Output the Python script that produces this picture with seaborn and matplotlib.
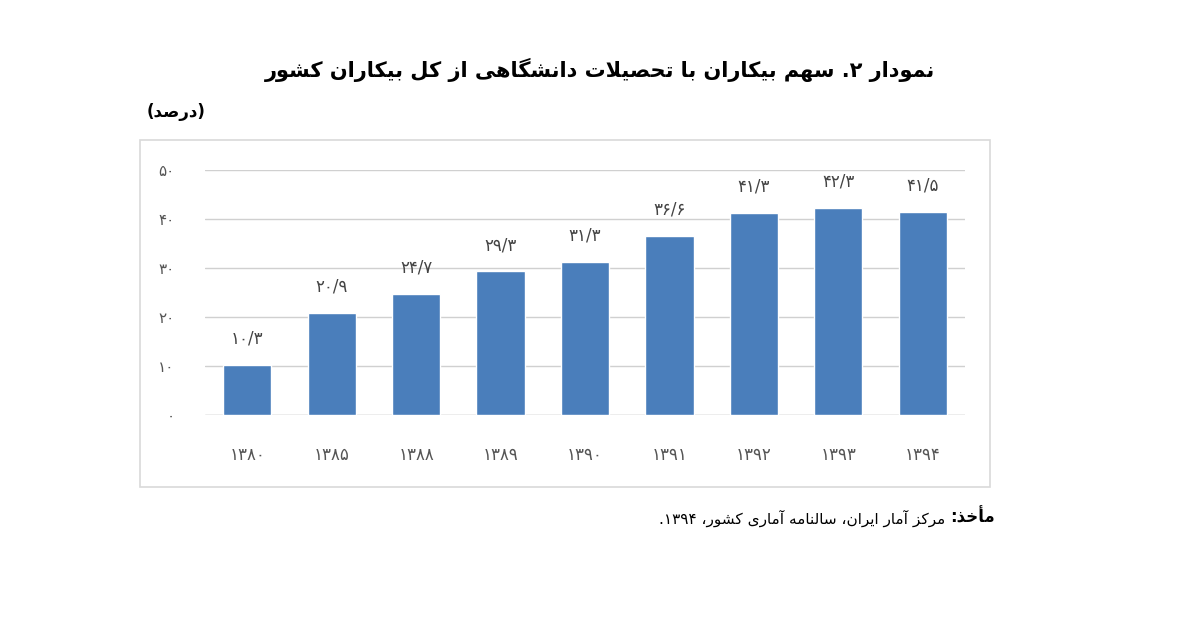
import re
import matplotlib
matplotlib.use("Agg")
import matplotlib.pyplot as plt
import seaborn as sns
import pandas as pd
from matplotlib.patches import Rectangle

# data
years = ["۱۳۸۰", "۱۳۸۵", "۱۳۸۸", "۱۳۸۹", "۱۳۹۰", "۱۳۹۱", "۱۳۹۲", "۱۳۹۳", "۱۳۹۴"]
shares = [10.3, 20.9, 24.7, 29.3, 31.3, 36.6, 41.3, 42.3, 41.5]
yticks = [0, 10, 20, 30, 40, 50]

title = "نمودار ۲. سهم بیکاران با تحصیلات دانشگاهی از کل بیکاران کشور"
unit = "(درصد)"
src_bold = "مأخذ:"
src_rest = "مرکز آمار ایران، سالنامه آماری کشور، ۱۳۹۴."

# --- minimal Arabic/Persian shaping (presentation forms) + RTL ordering ---
DUAL = {
    "ب": 0xFE8F, "ت": 0xFE95, "ث": 0xFE99, "ج": 0xFE9D, "ح": 0xFEA1, "خ": 0xFEA5,
    "س": 0xFEB1, "ش": 0xFEB5, "ص": 0xFEB9, "ض": 0xFEBD, "ط": 0xFEC1, "ظ": 0xFEC5,
    "ع": 0xFEC9, "غ": 0xFECD, "ف": 0xFED1, "ق": 0xFED5, "ك": 0xFED9, "ل": 0xFEDD,
    "م": 0xFEE1, "ن": 0xFEE5, "ه": 0xFEE9, "ي": 0xFEF1,
    "پ": 0xFB56, "چ": 0xFB7A, "ک": 0xFB8E, "گ": 0xFB92, "ی": 0xFBFC,
}
RIGHT = {
    "ا": 0xFE8D, "آ": 0xFE81, "أ": 0xFE83, "د": 0xFEA9, "ذ": 0xFEAB, "ر": 0xFEAD,
    "ز": 0xFEAF, "و": 0xFEED, "ژ": 0xFB8A,
}
LAM_ALEF = {"ا": 0xFEFB, "آ": 0xFEF5, "أ": 0xFEF7}


def shape(s):
    out = []
    i = 0
    n = len(s)
    while i < n:
        c = s[i]
        prev = s[i - 1] if i > 0 else ""
        joins_prev = prev in DUAL
        nxt = s[i + 1] if i + 1 < n else ""
        if c == "ل" and nxt in LAM_ALEF:
            out.append(chr(LAM_ALEF[nxt] + (1 if joins_prev else 0)))
            i += 2
            continue
        if c in DUAL:
            joins_next = nxt in DUAL or nxt in RIGHT
            base = DUAL[c]
            if joins_prev and joins_next:
                out.append(chr(base + 3))
            elif joins_prev:
                out.append(chr(base + 1))
            elif joins_next:
                out.append(chr(base + 2))
            else:
                out.append(chr(base))
        elif c in RIGHT:
            out.append(chr(RIGHT[c] + (1 if joins_prev else 0)))
        else:
            out.append(c)
        i += 1
    return "".join(out)


MIRROR = {"(": ")", ")": "("}


def fa(s):
    shaped = shape(s)
    tokens = re.findall(r"[۰-۹0-9]+(?:[/.][۰-۹0-9]+)*|[^۰-۹0-9]+", shaped)
    res = []
    for t in reversed(tokens):
        if re.match(r"[۰-۹0-9]", t):
            res.append(t)
        else:
            res.append("".join(MIRROR.get(ch, ch) for ch in reversed(t)))
    return "".join(res)


def fa_num(v):
    d = "۰۱۲۳۴۵۶۷۸۹"
    s = f"{v:g}".replace(".", "/")
    return "".join(d[int(ch)] if ch.isdigit() else ch for ch in s)


sns.set_theme(style="white")
plt.rcParams["font.family"] = ["DejaVu Sans"]

fig = plt.figure(figsize=(12, 6.2), dpi=100)
ax = fig.add_axes([205 / 1200, 1 - 415 / 620, 760 / 1200, 245 / 620])

df = pd.DataFrame({"year": years, "share": shares})
sns.barplot(data=df, x="year", y="share", color="#4a7ebb", width=0.57,
            saturation=1, ax=ax, zorder=3)

ax.set_ylim(0, 50)
ax.set_yticks(yticks)
ax.set_yticklabels([fa_num(t) for t in yticks], fontsize=11, color="#555555")
ax.tick_params(axis="y", length=0, pad=22)
ax.tick_params(axis="x", length=0, pad=22, labelsize=12, labelcolor="#555555")
ax.set_xlabel("")
ax.set_ylabel("")
ax.grid(axis="y", color="#d0d0d0", linewidth=1, zorder=0)
for sp in ax.spines.values():
    sp.set_visible(False)
ax.axhline(0, color="#d0d0d0", linewidth=1, zorder=1)

for i, v in enumerate(shares):
    ax.text(i, v + 3.5, fa_num(v), ha="center", va="bottom", fontsize=12, color="#444444")

# outer chart frame
fig.patches.append(Rectangle((140 / 1200, 1 - 487 / 620), 850 / 1200, 347 / 620,
                             transform=fig.transFigure, fill=False,
                             edgecolor="#d9d9d9", linewidth=1.2))

fig.text(0.5, 1 - 70 / 620, fa(title), ha="center", va="center",
         fontsize=15, fontweight="bold", color="black")
fig.text(205 / 1200, 1 - 112 / 620, fa(unit), ha="right", va="center",
         fontsize=12, fontweight="bold", color="black")

tb = fig.text(995 / 1200, 1 - 518 / 620, fa(src_bold), ha="right", va="center",
              fontsize=12, fontweight="bold", color="black")
r = fig.canvas.get_renderer()
bb = tb.get_window_extent(renderer=r)
fig.text((bb.x0 - 5) / 1200, 1 - 518 / 620, fa(src_rest), ha="right", va="center",
         fontsize=11, color="black")

fig.savefig("out.png", dpi=100, facecolor="white")
